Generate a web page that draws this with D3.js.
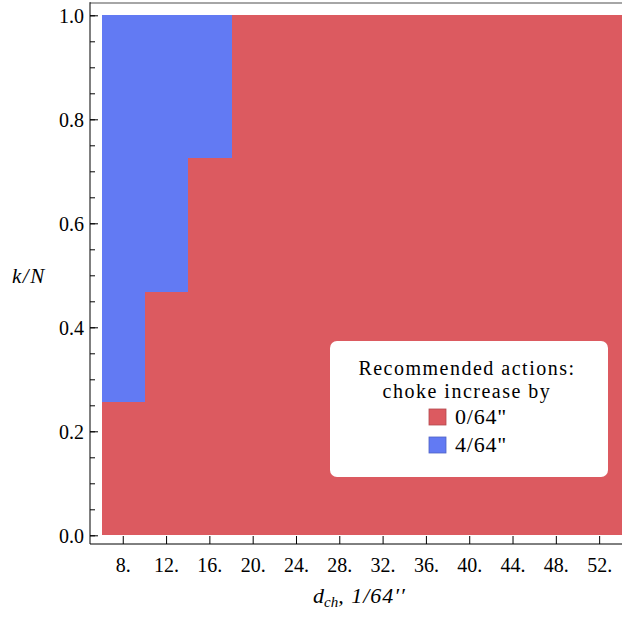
<!DOCTYPE html>
<html>
<head>
<meta charset="utf-8">
<script src="https://cdn.jsdelivr.net/npm/d3@7"></script>
<style>
  html, body { margin: 0; padding: 0; background: #fff; }
  svg { display: block; font-family: "Liberation Serif", "Times New Roman", serif; }
</style>
</head>
<body>
<svg id="chart" width="622" height="621"></svg>
<script>
// Choke size bins (d_ch, in 1/64") and the k/N level above which
// a 4/64" choke increase is recommended; below it, no change (0/64").
const binStart   = [6, 10, 14, 18];
const binEnd     = [10, 14, 18, 54];
const kThreshold = [0.255, 0.466, 0.724, 1.0];

const actionLabels = ['0/64"', '4/64"'];
const actionColors = ["#dc5a60", "#627af3"];
const legendTitle  = ["Recommended actions:", "choke increase by"];

const xTickValues = [8, 12, 16, 20, 24, 28, 32, 36, 40, 44, 48, 52];
const yTickValues = [0, 0.2, 0.4, 0.6, 0.8, 1.0];
const yMinorValues = d3.range(0, 1.0001, 0.05);

const svg = d3.select("#chart");

const x = d3.scaleLinear().domain([6, 54]).range([101.6, 621.3]);
const y = d3.scaleLinear().domain([0, 1]).range([534.8, 14.8]);

const frameLeft = 90, frameTop = 3, frameBottom = 544, frameRight = 640;

// Regions: below the threshold -> 0/64", above -> 4/64"
const bins = binStart.map((s, i) => ({ s, e: binEnd[i], k: kThreshold[i] }));

const regions = svg.append("g").attr("shape-rendering", "crispEdges");
regions.selectAll("rect.low").data(bins).join("rect")
  .attr("class", "low")
  .attr("x", d => x(d.s))
  .attr("width", d => x(d.e) - x(d.s) + 1)
  .attr("y", d => y(d.k))
  .attr("height", d => y(0) - y(d.k))
  .attr("fill", actionColors[0]);

regions.selectAll("rect.high").data(bins.filter(d => d.k < 1)).join("rect")
  .attr("class", "high")
  .attr("x", d => x(d.s))
  .attr("width", d => x(d.e) - x(d.s))
  .attr("y", y(1))
  .attr("height", d => y(d.k) - y(1))
  .attr("fill", actionColors[1]);

// Frame
svg.append("line")
  .attr("x1", frameLeft).attr("x2", frameRight)
  .attr("y1", frameTop).attr("y2", frameTop)
  .attr("stroke", "#888").attr("stroke-width", 1.6);
svg.append("line")
  .attr("x1", frameLeft).attr("x2", frameLeft)
  .attr("y1", frameTop - 0.8).attr("y2", frameBottom)
  .attr("stroke", "#000").attr("stroke-width", 1);
svg.append("line")
  .attr("x1", frameLeft).attr("x2", frameRight)
  .attr("y1", frameBottom).attr("y2", frameBottom)
  .attr("stroke", "#000").attr("stroke-width", 1);

// X ticks (pointing inward) and labels
const xt = svg.append("g");
xt.selectAll("line").data(xTickValues).join("line")
  .attr("x1", d => x(d)).attr("x2", d => x(d))
  .attr("y1", frameBottom).attr("y2", frameBottom - 8)
  .attr("stroke", "#000").attr("stroke-width", 1);
xt.selectAll("text").data(xTickValues).join("text")
  .attr("x", d => x(d)).attr("y", 572)
  .attr("text-anchor", "middle")
  .attr("font-size", 20)
  .text(d => d + ".");

// Y ticks
const yt = svg.append("g");
yt.selectAll("line.minor").data(yMinorValues).join("line")
  .attr("x1", frameLeft).attr("x2", frameLeft + 5)
  .attr("y1", d => y(d) + 1).attr("y2", d => y(d) + 1)
  .attr("stroke", "#000").attr("stroke-width", 1);
yt.selectAll("line.major").data(yTickValues).join("line")
  .attr("x1", frameLeft).attr("x2", frameLeft + 8)
  .attr("y1", d => y(d) + 1).attr("y2", d => y(d) + 1)
  .attr("stroke", "#000").attr("stroke-width", 1);
yt.selectAll("text").data(yTickValues).join("text")
  .attr("x", 84).attr("y", d => y(d) + 8)
  .attr("text-anchor", "end")
  .attr("font-size", 20)
  .text(d => d3.format(".1f")(d));

// Axis titles
const yl = svg.append("text")
  .attr("x", 12).attr("y", 283)
  .attr("font-size", 21).attr("font-style", "italic");
yl.append("tspan").text("k");
yl.append("tspan").attr("dx", 1.5).text("/");
yl.append("tspan").attr("dx", 1.5).text("N");

const xl = svg.append("text")
  .attr("x", 313).attr("y", 603)
  .attr("font-size", 22).attr("font-style", "italic");
xl.append("tspan").text("d");
xl.append("tspan").attr("font-size", 15).attr("dy", 4).text("ch");
xl.append("tspan").attr("dy", -4).attr("letter-spacing", 1).text(", 1/64\u2032\u2032");

// Legend
const lg = svg.append("g");
lg.append("rect")
  .attr("x", 330).attr("y", 341).attr("width", 278).attr("height", 136)
  .attr("rx", 7).attr("fill", "#fff");
lg.selectAll("text.title").data(legendTitle).join("text")
  .attr("class", "title")
  .attr("text-anchor", "middle")
  .attr("font-size", 20).attr("letter-spacing", 1.5)
  .attr("x", 467)
  .attr("y", (d, i) => 374.5 + i * 23)
  .text(d => d);
const items = lg.selectAll("g.item").data(actionLabels).join("g")
  .attr("class", "item")
  .attr("transform", (d, i) => `translate(429, ${409 + i * 28})`);
items.append("rect")
  .attr("width", 17).attr("height", 16)
  .attr("fill", (d, i) => actionColors[i])
  .attr("stroke", (d, i) => d3.color(actionColors[i]).darker(0.6))
  .attr("stroke-width", 0.8);
items.append("text")
  .attr("x", 26).attr("y", 15).attr("font-size", 22).attr("letter-spacing", 0.8)
  .text(d => d);
</script>
</body>
</html>
